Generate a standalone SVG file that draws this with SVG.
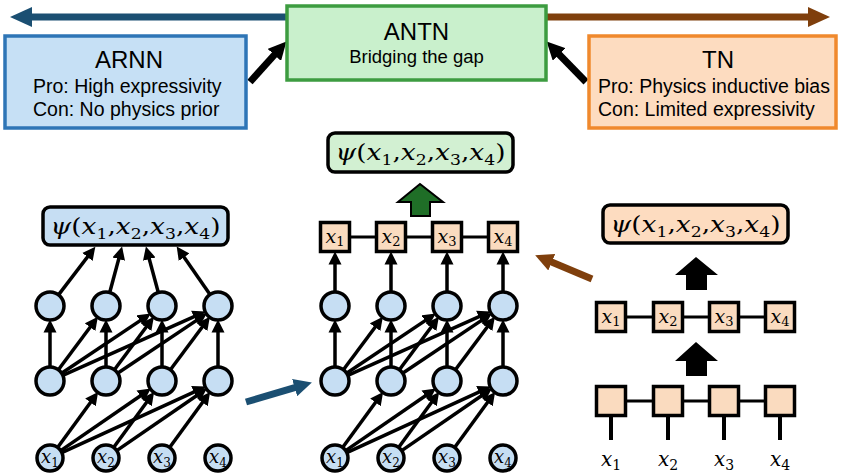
<svg xmlns="http://www.w3.org/2000/svg" width="842" height="476" viewBox="0 0 842 476">
<defs>
<style>
.hd{font-family:"Liberation Sans",Arial,sans-serif;fill:#000}
.t1{font-size:24px;text-anchor:middle}
.t2{font-size:19.5px}
.box{stroke-width:3.5}
.c{fill:#c6def3;stroke:#000;stroke-width:3.5}
.sq{fill:#fadbbf;stroke:#000;stroke-width:3.5}
.psi{stroke:#000;stroke-width:3.5}
.m{font-family:"DejaVu Serif","Liberation Serif",serif;fill:#000;text-anchor:middle}
.it{font-style:italic}
.cn line{stroke:#000;stroke-width:3.5;marker-end:url(#ah)}
.bar{stroke:#000;stroke-width:3}
</style>
<marker id="ah" markerUnits="userSpaceOnUse" markerWidth="14" markerHeight="14" refX="6.5" refY="7" orient="auto" viewBox="0 0 14 14"><path d="M0,0.5 L13,7 L0,13.5 z" fill="#000"/></marker>
<marker id="bigK" markerUnits="userSpaceOnUse" markerWidth="18" markerHeight="18" refX="8" refY="9" orient="auto" viewBox="0 0 18 18"><path d="M0,0 L18,9 L0,18 z" fill="#000"/></marker>
<marker id="bigB" markerUnits="userSpaceOnUse" markerWidth="18" markerHeight="18" refX="8" refY="9" orient="auto" viewBox="0 0 18 18"><path d="M0,0 L18,9 L0,18 z" fill="#1b4f72"/></marker>
<marker id="bigO" markerUnits="userSpaceOnUse" markerWidth="18" markerHeight="18" refX="8" refY="9" orient="auto" viewBox="0 0 18 18"><path d="M0,0 L18,9 L0,18 z" fill="#7f3f0c"/></marker>
</defs>
<rect width="842" height="476" fill="#fff"/>

<g id="connectors">
  <line x1="290" y1="17" x2="28" y2="17" stroke="#1b4f72" stroke-width="7"/>
  <polygon points="10,17 32,7 32,27" fill="#1b4f72"/>
  <line x1="545" y1="17" x2="812" y2="17" stroke="#7f3f0c" stroke-width="7"/>
  <polygon points="830,17 808,7 808,27" fill="#7f3f0c"/>
  <line x1="250" y1="82" x2="279.7" y2="49" stroke="#000" stroke-width="7" marker-end="url(#bigK)"/>
  <line x1="586" y1="82" x2="553.6" y2="48.7" stroke="#000" stroke-width="7" marker-end="url(#bigK)"/>
  <line x1="246" y1="402" x2="302.3" y2="385.3" stroke="#1b4f72" stroke-width="7" marker-end="url(#bigB)"/>
  <line x1="592" y1="279" x2="544.4" y2="259.1" stroke="#7f3f0c" stroke-width="7" marker-end="url(#bigO)"/>

  <g class="cn">
    <line x1="58.5" y1="294.9" x2="91.4" y2="251.8"/>
    <line x1="109.7" y1="292.5" x2="120.4" y2="252.8"/>
    <line x1="158.3" y1="292.5" x2="147.6" y2="252.8"/>
    <line x1="210" y1="294.5" x2="180.4" y2="251.9"/>
    <line x1="50" y1="367" x2="50" y2="326"/>
    <line x1="58.4" y1="369.8" x2="94.0" y2="322.0"/>
    <line x1="61.6" y1="373.2" x2="145.4" y2="317.1"/>
    <line x1="62.8" y1="375.3" x2="199.7" y2="314.1"/>
    <line x1="106" y1="367" x2="106" y2="326"/>
    <line x1="114.4" y1="369.8" x2="150.0" y2="322.0"/>
    <line x1="117.6" y1="373.2" x2="201.4" y2="317.1"/>
    <line x1="162" y1="367" x2="162" y2="326"/>
    <line x1="170.4" y1="369.8" x2="206.0" y2="322.0"/>
    <line x1="218" y1="367" x2="218" y2="326"/>
    <line x1="57.6" y1="447.5" x2="94.3" y2="397.2"/>
    <line x1="60.7" y1="450.6" x2="145.6" y2="392.3"/>
    <line x1="61.8" y1="452.6" x2="199.8" y2="389.3"/>
    <line x1="113.6" y1="447.5" x2="150.3" y2="397.2"/>
    <line x1="116.7" y1="450.6" x2="201.6" y2="392.3"/>
    <line x1="169.6" y1="447.5" x2="206.3" y2="397.2"/>
  </g>
  <g class="cn">
    <line x1="335" y1="292" x2="335" y2="258"/>
    <line x1="391" y1="292" x2="391" y2="258"/>
    <line x1="447" y1="292" x2="447" y2="258"/>
    <line x1="503" y1="292" x2="503" y2="258"/>
    <line x1="335" y1="367" x2="335" y2="326"/>
    <line x1="343.4" y1="369.8" x2="379.0" y2="322.0"/>
    <line x1="346.6" y1="373.2" x2="430.4" y2="317.1"/>
    <line x1="347.8" y1="375.3" x2="484.7" y2="314.1"/>
    <line x1="391" y1="367" x2="391" y2="326"/>
    <line x1="399.4" y1="369.8" x2="435.0" y2="322.0"/>
    <line x1="402.6" y1="373.2" x2="486.4" y2="317.1"/>
    <line x1="447" y1="367" x2="447" y2="326"/>
    <line x1="455.4" y1="369.8" x2="491.0" y2="322.0"/>
    <line x1="503" y1="367" x2="503" y2="326"/>
    <line x1="342.6" y1="447.5" x2="379.3" y2="397.2"/>
    <line x1="345.7" y1="450.6" x2="430.6" y2="392.3"/>
    <line x1="346.8" y1="452.6" x2="484.8" y2="389.3"/>
    <line x1="398.6" y1="447.5" x2="435.3" y2="397.2"/>
    <line x1="401.7" y1="450.6" x2="486.6" y2="392.3"/>
    <line x1="454.6" y1="447.5" x2="491.3" y2="397.2"/>
  </g>
  <line class="bar" x1="335" y1="237" x2="503" y2="237"/>
  <line class="bar" x1="611" y1="317" x2="780" y2="317"/>
  <line class="bar" x1="611" y1="401" x2="780" y2="401"/>
  <line x1="611" y1="415" x2="611" y2="440" stroke="#000" stroke-width="4"/>
  <line x1="668" y1="415" x2="668" y2="440" stroke="#000" stroke-width="4"/>
  <line x1="724" y1="415" x2="724" y2="440" stroke="#000" stroke-width="4"/>
  <line x1="780" y1="415" x2="780" y2="440" stroke="#000" stroke-width="4"/>
  <polygon points="420,184 443,202 430,202 430,216 411,216 411,202 398,202" fill="#1f6e27" stroke="#000" stroke-width="2"/>
  <polygon points="696,257 718,275 707,275 707,290 686,290 686,275 675,275" fill="#000"/>
  <polygon points="696,342 718,361 707,361 707,376 686,376 686,361 675,361" fill="#000"/>
</g>

<g id="arnn-box">
  <rect class="box" x="5" y="36" width="241" height="92" fill="#c6e0f5" stroke="#2e75b6"/>
  <text class="hd t1" x="129" y="68">ARNN</text>
  <text class="hd t2" x="33" y="93">Pro: High expressivity</text>
  <text class="hd t2" x="33" y="116">Con: No physics prior</text>
</g>
<g id="antn-box">
  <rect class="box" x="287" y="6" width="259" height="74" fill="#c9f0cc" stroke="#3d9c40"/>
  <text class="hd t1" x="416.5" y="40">ANTN</text>
  <text class="hd" x="416.5" y="63" font-size="18.5" text-anchor="middle">Bridging the gap</text>
</g>
<g id="tn-box">
  <rect class="box" x="589" y="36" width="247" height="92" fill="#fddcc0" stroke="#f0892d"/>
  <text class="hd t1" x="718" y="68">TN</text>
  <text class="hd t2" x="598" y="93">Pro: Physics inductive bias</text>
  <text class="hd t2" x="598" y="116">Con: Limited expressivity</text>
</g>

<g id="arnn-psi">
  <rect class="psi" x="43" y="207" width="185" height="38" rx="7" fill="#c6def3"/>
  <text class="m" x="135.5" y="234" font-size="23" textLength="170" lengthAdjust="spacingAndGlyphs"><tspan class="it">ψ</tspan>(<tspan class="it">x</tspan><tspan dy="5" font-size="15">1</tspan><tspan dy="-5">,</tspan><tspan class="it">x</tspan><tspan dy="5" font-size="15">2</tspan><tspan dy="-5">,</tspan><tspan class="it">x</tspan><tspan dy="5" font-size="15">3</tspan><tspan dy="-5">,</tspan><tspan class="it">x</tspan><tspan dy="5" font-size="15">4</tspan><tspan dy="-5">)</tspan></text>
</g>
<g id="arnn-h1">
  <circle class="c" cx="50" cy="306" r="14"/><circle class="c" cx="106" cy="306" r="14"/><circle class="c" cx="162" cy="306" r="14"/><circle class="c" cx="218" cy="306" r="14"/>
</g>
<g id="arnn-h2">
  <circle class="c" cx="50" cy="381" r="14"/><circle class="c" cx="106" cy="381" r="14"/><circle class="c" cx="162" cy="381" r="14"/><circle class="c" cx="218" cy="381" r="14"/>
</g>
<g id="arnn-in">
  <circle class="c" cx="50" cy="458" r="13"/><circle class="c" cx="106" cy="458" r="13"/><circle class="c" cx="162" cy="458" r="13"/><circle class="c" cx="218" cy="458" r="13"/>
  <text class="m" x="50" y="463" font-size="18"><tspan class="it">x</tspan><tspan dy="4" font-size="12">1</tspan></text>
  <text class="m" x="106" y="463" font-size="18"><tspan class="it">x</tspan><tspan dy="4" font-size="12">2</tspan></text>
  <text class="m" x="162" y="463" font-size="18"><tspan class="it">x</tspan><tspan dy="4" font-size="12">3</tspan></text>
  <text class="m" x="218" y="463" font-size="18"><tspan class="it">x</tspan><tspan dy="4" font-size="12">4</tspan></text>
</g>

<g id="antn-psi">
  <rect class="psi" x="328" y="133" width="185" height="39" rx="7" fill="#d2f0d2"/>
  <text class="m" x="420.5" y="160" font-size="23" textLength="170" lengthAdjust="spacingAndGlyphs"><tspan class="it">ψ</tspan>(<tspan class="it">x</tspan><tspan dy="5" font-size="15">1</tspan><tspan dy="-5">,</tspan><tspan class="it">x</tspan><tspan dy="5" font-size="15">2</tspan><tspan dy="-5">,</tspan><tspan class="it">x</tspan><tspan dy="5" font-size="15">3</tspan><tspan dy="-5">,</tspan><tspan class="it">x</tspan><tspan dy="5" font-size="15">4</tspan><tspan dy="-5">)</tspan></text>
</g>
<g id="antn-mps">
  <rect class="sq" x="320.5" y="222.5" width="29" height="29"/><rect class="sq" x="376.5" y="222.5" width="29" height="29"/><rect class="sq" x="432.5" y="222.5" width="29" height="29"/><rect class="sq" x="488.5" y="222.5" width="29" height="29"/>
  <text class="m" x="335" y="243" font-size="19"><tspan class="it">x</tspan><tspan dy="3" font-size="13">1</tspan></text>
  <text class="m" x="391" y="243" font-size="19"><tspan class="it">x</tspan><tspan dy="3" font-size="13">2</tspan></text>
  <text class="m" x="447" y="243" font-size="19"><tspan class="it">x</tspan><tspan dy="3" font-size="13">3</tspan></text>
  <text class="m" x="503" y="243" font-size="19"><tspan class="it">x</tspan><tspan dy="3" font-size="13">4</tspan></text>
</g>
<g id="antn-h1">
  <circle class="c" cx="335" cy="306" r="14"/><circle class="c" cx="391" cy="306" r="14"/><circle class="c" cx="447" cy="306" r="14"/><circle class="c" cx="503" cy="306" r="14"/>
</g>
<g id="antn-h2">
  <circle class="c" cx="335" cy="381" r="14"/><circle class="c" cx="391" cy="381" r="14"/><circle class="c" cx="447" cy="381" r="14"/><circle class="c" cx="503" cy="381" r="14"/>
</g>
<g id="antn-in">
  <circle class="c" cx="335" cy="458" r="13"/><circle class="c" cx="391" cy="458" r="13"/><circle class="c" cx="447" cy="458" r="13"/><circle class="c" cx="503" cy="458" r="13"/>
  <text class="m" x="335" y="463" font-size="18"><tspan class="it">x</tspan><tspan dy="4" font-size="12">1</tspan></text>
  <text class="m" x="391" y="463" font-size="18"><tspan class="it">x</tspan><tspan dy="4" font-size="12">2</tspan></text>
  <text class="m" x="447" y="463" font-size="18"><tspan class="it">x</tspan><tspan dy="4" font-size="12">3</tspan></text>
  <text class="m" x="503" y="463" font-size="18"><tspan class="it">x</tspan><tspan dy="4" font-size="12">4</tspan></text>
</g>

<g id="tn-psi">
  <rect class="psi" x="603" y="205" width="185" height="38" rx="7" fill="#fddcc0"/>
  <text class="m" x="695.5" y="232" font-size="23" textLength="170" lengthAdjust="spacingAndGlyphs"><tspan class="it">ψ</tspan>(<tspan class="it">x</tspan><tspan dy="5" font-size="15">1</tspan><tspan dy="-5">,</tspan><tspan class="it">x</tspan><tspan dy="5" font-size="15">2</tspan><tspan dy="-5">,</tspan><tspan class="it">x</tspan><tspan dy="5" font-size="15">3</tspan><tspan dy="-5">,</tspan><tspan class="it">x</tspan><tspan dy="5" font-size="15">4</tspan><tspan dy="-5">)</tspan></text>
</g>
<g id="tn-mps-top">
  <rect class="sq" x="596.5" y="302.5" width="29" height="29"/><rect class="sq" x="653.5" y="302.5" width="29" height="29"/><rect class="sq" x="709.5" y="302.5" width="29" height="29"/><rect class="sq" x="765.5" y="302.5" width="29" height="29"/>
  <text class="m" x="611" y="323" font-size="19"><tspan class="it">x</tspan><tspan dy="3" font-size="13">1</tspan></text>
  <text class="m" x="668" y="323" font-size="19"><tspan class="it">x</tspan><tspan dy="3" font-size="13">2</tspan></text>
  <text class="m" x="724" y="323" font-size="19"><tspan class="it">x</tspan><tspan dy="3" font-size="13">3</tspan></text>
  <text class="m" x="780" y="323" font-size="19"><tspan class="it">x</tspan><tspan dy="3" font-size="13">4</tspan></text>
</g>
<g id="tn-mps-bottom">
  <rect class="sq" x="596.5" y="386.5" width="29" height="29"/><rect class="sq" x="653.5" y="386.5" width="29" height="29"/><rect class="sq" x="709.5" y="386.5" width="29" height="29"/><rect class="sq" x="765.5" y="386.5" width="29" height="29"/>
  <text class="m" x="611" y="466" font-size="20"><tspan class="it">x</tspan><tspan dy="4" font-size="14">1</tspan></text>
  <text class="m" x="668" y="466" font-size="20"><tspan class="it">x</tspan><tspan dy="4" font-size="14">2</tspan></text>
  <text class="m" x="724" y="466" font-size="20"><tspan class="it">x</tspan><tspan dy="4" font-size="14">3</tspan></text>
  <text class="m" x="780" y="466" font-size="20"><tspan class="it">x</tspan><tspan dy="4" font-size="14">4</tspan></text>
</g>
</svg>
